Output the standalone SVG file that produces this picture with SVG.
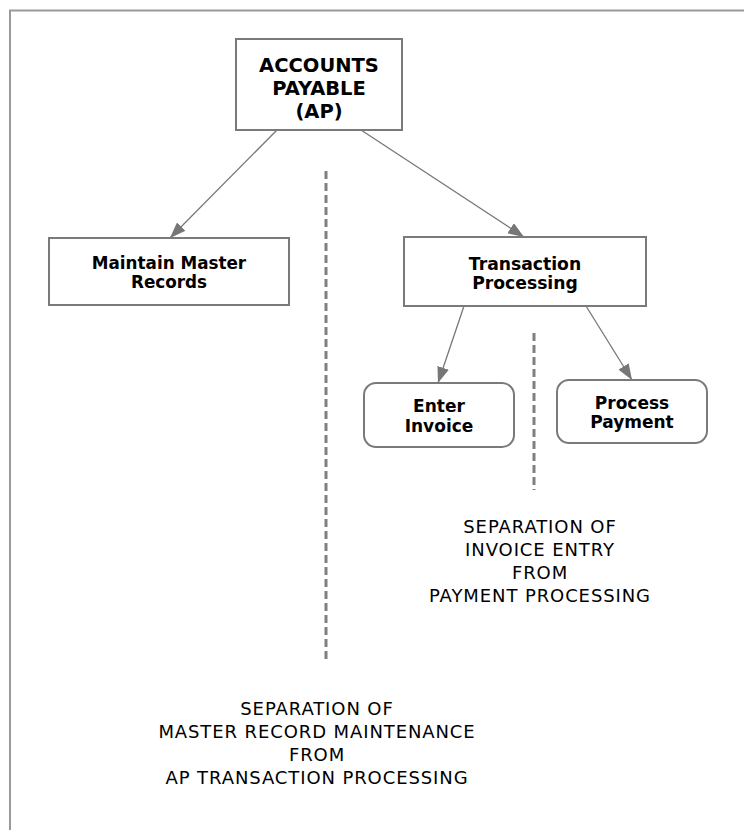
<svg xmlns="http://www.w3.org/2000/svg" width="744" height="830" viewBox="0 0 744 830">
  <style>
    .box { fill: #ffffff; stroke: #7a7a7a; stroke-width: 2; }
    .lbl { font-family: "DejaVu Sans", Verdana, sans-serif; font-weight: bold; fill: #000; text-anchor: middle; }
    .note { font-family: "DejaVu Sans", Verdana, sans-serif; font-size: 18px; letter-spacing: 0.9px; fill: #000; text-anchor: middle; }
    .edge { stroke: #777777; stroke-width: 1.3; fill: none; marker-end: url(#arrow); }
    .divider { stroke: #808080; stroke-width: 3; stroke-dasharray: 8 4; fill: none; }
  </style>
  <defs>
    <marker id="arrow" viewBox="0 0 16 12" refX="16" refY="6" markerWidth="16" markerHeight="12" markerUnits="userSpaceOnUse" orient="auto">
      <path d="M0,0 L16,6 L0,12 Z" fill="#777777"/>
    </marker>
  </defs>

  <rect width="744" height="830" fill="#ffffff"/>
  <!-- outer frame -->
  <path d="M10,830 L10,10.5 L744,10.5" fill="none" stroke="#9a9a9a" stroke-width="2"/>

  <g id="connectors">
    <line class="edge" x1="277" y1="130" x2="170" y2="238"/>
    <line class="edge" x1="361" y1="130" x2="524" y2="237"/>
    <line class="edge" x1="464" y1="306" x2="438" y2="383"/>
    <line class="edge" x1="586" y1="306" x2="632" y2="380"/>
  </g>

  <g id="dividers">
    <line class="divider" x1="326" y1="171" x2="326" y2="662"/>
    <line class="divider" x1="534" y1="333" x2="534" y2="490"/>
  </g>

  <g id="node-ap">
    <rect class="box" x="236" y="39" width="166" height="91"/>
    <text class="lbl" font-size="19.5" x="319" y="72">ACCOUNTS</text>
    <text class="lbl" font-size="19.5" x="319" y="95">PAYABLE</text>
    <text class="lbl" font-size="19.5" x="319" y="118">(AP)</text>
  </g>

  <g id="node-master">
    <rect class="box" x="49" y="238" width="240" height="67"/>
    <text class="lbl" font-size="16.8" x="169" y="269">Maintain Master</text>
    <text class="lbl" font-size="16.8" x="169" y="288">Records</text>
  </g>

  <g id="node-transaction">
    <rect class="box" x="404" y="237" width="242" height="69"/>
    <text class="lbl" font-size="17.2" x="525" y="270">Transaction</text>
    <text class="lbl" font-size="17.2" x="525" y="289">Processing</text>
  </g>

  <g id="node-invoice">
    <rect class="box" x="364" y="383" width="150" height="64" rx="12" ry="12" stroke-width="1.5"/>
    <text class="lbl" font-size="17" x="439" y="412">Enter</text>
    <text class="lbl" font-size="17" x="439" y="432">Invoice</text>
  </g>

  <g id="node-payment">
    <rect class="box" x="557" y="380" width="150" height="63" rx="12" ry="12" stroke-width="1.5"/>
    <text class="lbl" font-size="17" x="632" y="409">Process</text>
    <text class="lbl" font-size="17" x="632" y="428">Payment</text>
  </g>

  <g id="note-invoice-payment">
    <text class="note" x="540" y="533">SEPARATION OF</text>
    <text class="note" x="540" y="556">INVOICE ENTRY</text>
    <text class="note" x="540" y="579">FROM</text>
    <text class="note" x="540" y="602">PAYMENT PROCESSING</text>
  </g>

  <g id="note-master-transaction">
    <text class="note" x="317" y="715">SEPARATION OF</text>
    <text class="note" x="317" y="738">MASTER RECORD MAINTENANCE</text>
    <text class="note" x="317" y="761">FROM</text>
    <text class="note" x="317" y="784">AP TRANSACTION PROCESSING</text>
  </g>
</svg>
